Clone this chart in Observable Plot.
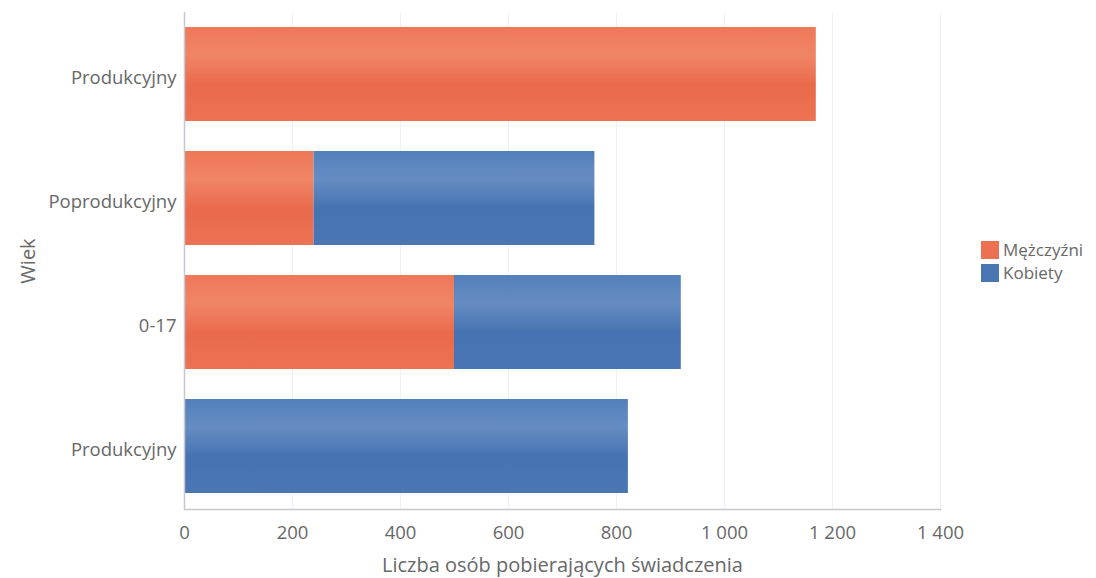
<!DOCTYPE html>
<html>
<head>
<meta charset="utf-8">
<script src="https://cdn.jsdelivr.net/npm/d3@7"></script>
<script src="https://cdn.jsdelivr.net/npm/@observablehq/plot@0.6"></script>
<style>
  body { margin: 0; background: #fff; font-family: "Open Sans", sans-serif; }
  #wrap { position: relative; width: 1096px; height: 578px; }
  #legend { position: absolute; left: 981px; top: 238px; font-size: 17px; color: #686868; line-height: 23px; }
  #legend .item { display: flex; align-items: center; height: 23px; }
  #legend .sw { width: 18px; height: 18px; margin-right: 4px; }
  g[aria-label="x-axis tick label"] text, g[aria-label="y-axis tick label"] text { font-size: 18.5px; fill: #686868; }
  g[aria-label="x-axis label"] text, g[aria-label="y-axis label"] text { font-size: 20px; fill: #686868; }
</style>
</head>
<body>
<div id="wrap">
  <div id="chart"></div>
  <div id="legend"></div>
</div>
<script>
const categories = ["Produkcyjny", "Poprodukcyjny", "0-17", "Produkcyjny"];
const series = ["Mężczyźni", "Kobiety"];
const menValues = [1170, 240, 500, 0];
const womenValues = [0, 520, 420, 822];
const xTicks = [0, 200, 400, 600, 800, 1000, 1200, 1400];
const colors = ["#ec7152", "#4a77b4"];

const data = [];
categories.forEach((c, i) => {
  data.push({ idx: i, series: series[0], value: menValues[i] });
  data.push({ idx: i, series: series[1], value: womenValues[i] });
});

const fmt = d3.formatLocale({ thousands: " ", grouping: [3], decimal: "," }).format(",");

const chart = Plot.plot({
  width: 1096,
  height: 578,
  marginLeft: 184,
  marginRight: 156,
  marginTop: 12,
  marginBottom: 69,
  style: { fontFamily: "'Open Sans', sans-serif", color: "#686868" },
  x: { domain: [0, 1400] },
  y: { domain: categories.map((c, i) => i), paddingInner: 0.24, paddingOuter: 0.12 },
  color: { domain: series, range: ["url(#gradM)", "url(#gradK)"] },
  marks: [
    Plot.ruleX(xTicks.slice(1), { stroke: "#f1f1f4", strokeWidth: 1 }),
    Plot.barX(data, Plot.stackX({ x: "value", y: "idx", fill: "series", order: series })),
    Plot.ruleX([0], { stroke: "#c8c8d4", strokeWidth: 1.5 }),
    Plot.frame({ anchor: "bottom", stroke: "#c8c8d4", strokeWidth: 1.5 }),
    Plot.axisX({
      ticks: xTicks, tickFormat: fmt, tickSize: 0, tickPadding: 16,
      label: "Liczba osób pobierających świadczenia", labelAnchor: "center", labelArrow: "none", labelOffset: 62
    }),
    Plot.axisY({
      tickFormat: i => categories[i], tickSize: 0, tickPadding: 8, dy: 4,
      label: "Wiek", labelAnchor: "center", labelArrow: "none", labelOffset: 164
    })
  ]
});

const ns = "http://www.w3.org/2000/svg";
const defs = document.createElementNS(ns, "defs");
const gradSpecs = [
  ["gradM", [[0, "#ee7858"], [0.3, "#f08566"], [0.62, "#e96a4c"], [1, "#ec7254"]]],
  ["gradK", [[0, "#5380bb"], [0.3, "#658dc3"], [0.62, "#4572b0"], [1, "#4a77b4"]]]
];
gradSpecs.forEach(([id, stops]) => {
  const g = document.createElementNS(ns, "linearGradient");
  g.setAttribute("id", id);
  g.setAttribute("x1", "0"); g.setAttribute("y1", "0");
  g.setAttribute("x2", "0"); g.setAttribute("y2", "1");
  stops.forEach(([o, c]) => {
    const s = document.createElementNS(ns, "stop");
    s.setAttribute("offset", o);
    s.setAttribute("stop-color", c);
    g.appendChild(s);
  });
  defs.appendChild(g);
});
chart.insertBefore(defs, chart.firstChild);
document.getElementById("chart").appendChild(chart);

const legend = document.getElementById("legend");
series.forEach((s, i) => {
  const it = document.createElement("div");
  it.className = "item";
  const sw = document.createElement("span");
  sw.className = "sw";
  sw.style.background = colors[i];
  const t = document.createElement("span");
  t.textContent = s;
  it.appendChild(sw); it.appendChild(t);
  legend.appendChild(it);
});
</script>
</body>
</html>
